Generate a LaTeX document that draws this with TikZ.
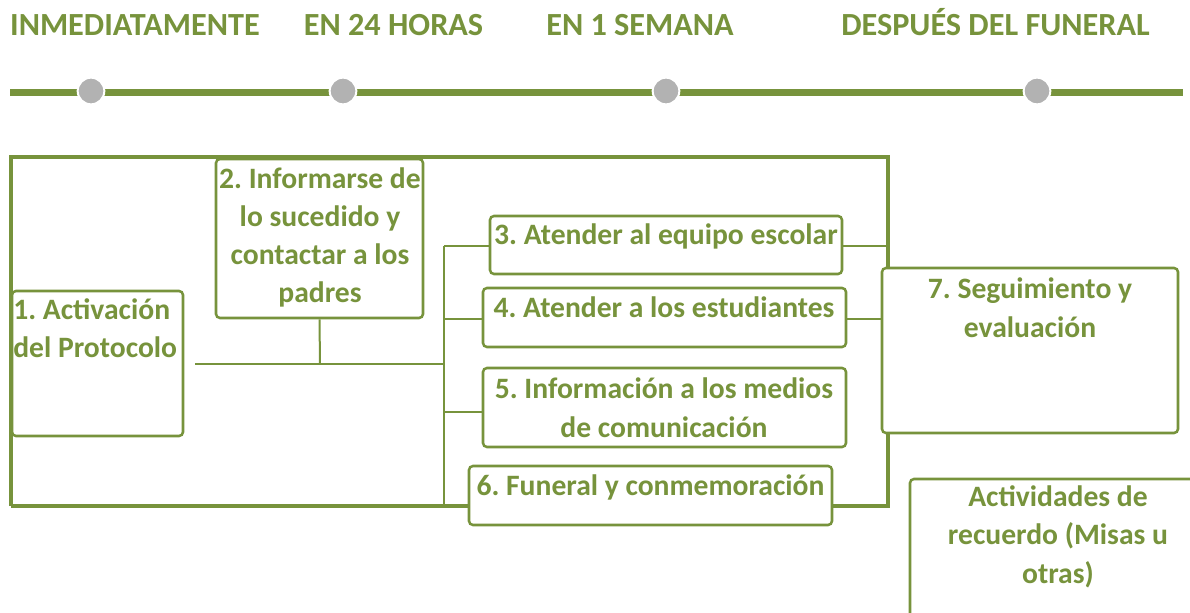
\documentclass[tikz,border=0pt]{standalone}
\usepackage{fontspec}
\setmainfont{Carlito}
\frenchspacing
\definecolor{olive}{RGB}{119,147,60}
\definecolor{dot}{RGB}{178,178,178}
\begin{document}
\begin{tikzpicture}[x=0.75pt,y=-0.75pt,
  head/.style={anchor=base,text=olive,font=\bfseries\fontsize{24.2}{28}\selectfont,inner sep=0pt},
  box/.style={draw=olive,line width=1.9pt,rounded corners=3pt,fill=white,inner sep=0pt},
  txt/.style={anchor=base,text=olive,font=\bfseries\fontsize{22.2}{28.7}\selectfont,align=center,inner sep=0pt},
  thin/.style={draw=olive,line width=1.5pt},
  thick/.style={draw=olive,line width=2.4pt}]
\useasboundingbox (0,0) rectangle (1190,613);
\clip (0,0) rectangle (1190,613);
% headings
\node[head] (h1) at (135,36) {INMEDIATAMENTE};
\node[head] (h2) at (393.5,36) {EN 24 HORAS};
\node[head] (h3) at (640,36) {EN 1 SEMANA};
\node[head] (h4) at (995.5,36) {DESPUÉS DEL FUNERAL};
% timeline
\coordinate (ts) at (10,93);
\coordinate (te) at (1183,93);
\draw[olive,line width=5.25pt] (ts) -- (te);
\foreach \n/\x in {1/91,2/343,3/666,4/1037}
  \node[circle,fill=dot,draw=white,line width=1.5pt,minimum size=20pt,inner sep=0pt] (c\n) at (\x,91) {};
% corner coordinates
\coordinate (tl) at (11,157);
\coordinate (tr) at (888,157);
\coordinate (bl) at (11,506);
\coordinate (br) at (888,506);
\coordinate (jn) at (320,364);
\coordinate (st) at (195,364);
\coordinate (bt) at (444,246);
\coordinate (bm) at (444,364);
\coordinate (bb) at (444,506);
% thick outer frame (behind boxes)
\draw[thick] (bl) -- (tl) -- (tr) -- (888,270);
\draw[thick] (888,430) -- (br) -- (bl);
% boxes
\node[box,minimum width=128.25pt,minimum height=108.75pt] (b1) at (97.5,363.5) {};
\node[box,minimum width=155.25pt,minimum height=119.25pt] (b2) at (319.5,238.5) {};
\node[box,minimum width=264pt,minimum height=43.5pt] (b3) at (666,245) {};
\node[box,minimum width=272.25pt,minimum height=44.25pt] (b4) at (664.5,317.5) {};
\node[box,minimum width=272.25pt,minimum height=59.25pt] (b5) at (664.5,407.5) {};
\node[box,minimum width=272.25pt,minimum height=44.25pt] (b6) at (650.5,495.5) {};
\node[box,minimum width=222pt,minimum height=123.75pt] (b7) at (1030,350.5) {};
\node[box,minimum width=222pt,minimum height=121.5pt] (b8) at (1058,560) {};
% connectors
\draw[thin] (st) -- (bm);
\draw[thin] (b2.south) -- (jn);
\draw[thin] (bt) -- (bb);
\draw[thin] (bt) -- (b3.west |- bt);
\draw[thin] (444,319) -- (b4.west |- 0,319);
\draw[thin] (444,412) -- (b5.west |- 0,412);
\draw[thin] (b3.east |- 0,246) -- (888,246);
\draw[thin] (b4.east |- 0,319) -- (b7.west |- 0,319);
\draw[thick] (bb) -- (b6.west |- bb);
\draw[thick] (b6.east |- br) -- (br);
\draw[thick] (888,157) -- (b7.north -| 888,0);
\draw[thick] (b7.south -| 888,0) -- (br);
% texts (base anchor = last line baseline)
\node[txt,align=left,anchor=base west] (t1) at (13,358) {1. Activación\\del Protocolo};
\node[txt] (t2) at (320,303) {2. Informarse de\\lo sucedido y\\contactar a los\\padres};
\node[txt] (t3) at (666,245) {3. Atender al equipo escolar};
\node[txt] (t4) at (664,317) {4. Atender a los estudiantes};
\node[txt] (t5) at (664,437) {5. Información a los medios\\de comunicación};
\node[txt] (t6) at (650.5,495) {6. Funeral y conmemoración};
\node[txt] (t7) at (1030,337) {7. Seguimiento y\\evaluación};
\node[txt] (t8) at (1058,583) {Actividades de\\recuerdo (Misas u\\otras)};
\end{tikzpicture}
\end{document}
